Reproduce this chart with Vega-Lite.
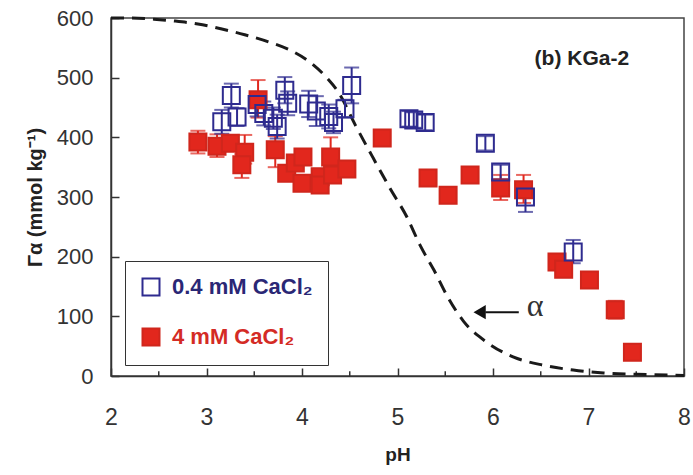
{
  "$schema": "https://vega.github.io/schema/vega-lite/v6.json",
  "width": 573,
  "height": 358,
  "autosize": "none",
  "padding": {"left": 111, "top": 18, "right": 9, "bottom": 99},
  "background": "white",
  "config": {
    "view": {"stroke": "#444", "strokeWidth": 1.5},
    "font": "Liberation Sans",
    "axis": {"grid": false, "domainColor": "#333", "domainWidth": 1.5, "tickColor": "#333", "tickWidth": 1.5, "labelColor": "#333", "labelFont": "Liberation Sans", "titleFont": "Liberation Sans", "titleColor": "#222"},
    "legend": {"orient": "none", "legendX": 14, "legendY": 243, "strokeColor": "#333", "fillColor": "white", "padding": 15, "symbolSize": 289, "symbolStrokeWidth": 2, "symbolType": "square", "labelFontSize": 22, "labelFont": "Liberation Sans", "labelFontWeight": "bold", "labelOffset": 10, "rowPadding": 24, "labelLimit": 300}
  },
  "datasets": {
    "curve": [
      {"pH": 2.0, "a": 600}, {"pH": 2.18, "a": 600}, {"pH": 2.45, "a": 598}, {"pH": 2.66, "a": 595},
      {"pH": 2.91, "a": 590}, {"pH": 3.15, "a": 582}, {"pH": 3.4, "a": 572}, {"pH": 3.65, "a": 560},
      {"pH": 3.89, "a": 545}, {"pH": 4.1, "a": 524}, {"pH": 4.27, "a": 498}, {"pH": 4.38, "a": 476},
      {"pH": 4.56, "a": 420}, {"pH": 4.75, "a": 364}, {"pH": 4.92, "a": 315}, {"pH": 5.1, "a": 266},
      {"pH": 5.24, "a": 218}, {"pH": 5.38, "a": 178}, {"pH": 5.52, "a": 134}, {"pH": 5.69, "a": 92},
      {"pH": 5.94, "a": 56}, {"pH": 6.21, "a": 32}, {"pH": 6.53, "a": 18}, {"pH": 6.84, "a": 10},
      {"pH": 7.16, "a": 5}, {"pH": 7.5, "a": 3}, {"pH": 8.0, "a": 1}
    ],
    "minor": [{"pH": 2.5}, {"pH": 3.5}, {"pH": 4.5}, {"pH": 5.5}, {"pH": 6.5}, {"pH": 7.5}],
    "pts": [
      {"series": "4 mM CaCl₂", "pH": 2.91, "G": 392, "lo": 373, "hi": 411},
      {"series": "4 mM CaCl₂", "pH": 3.11, "G": 385, "lo": 367, "hi": 405},
      {"series": "4 mM CaCl₂", "pH": 3.25, "G": 390, "lo": 380, "hi": 400},
      {"series": "4 mM CaCl₂", "pH": 3.4, "G": 375, "lo": 356, "hi": 404},
      {"series": "4 mM CaCl₂", "pH": 3.37, "G": 354, "lo": 332, "hi": 372},
      {"series": "4 mM CaCl₂", "pH": 3.54, "G": 463, "lo": 433, "hi": 496},
      {"series": "4 mM CaCl₂", "pH": 3.72, "G": 379, "lo": 350, "hi": 402},
      {"series": "4 mM CaCl₂", "pH": 3.84, "G": 340, "lo": 330, "hi": 350},
      {"series": "4 mM CaCl₂", "pH": 3.93, "G": 357, "lo": 347, "hi": 367},
      {"series": "4 mM CaCl₂", "pH": 4.01, "G": 367, "lo": 357, "hi": 377},
      {"series": "4 mM CaCl₂", "pH": 4.0, "G": 323, "lo": 313, "hi": 333},
      {"series": "4 mM CaCl₂", "pH": 4.19, "G": 334, "lo": 324, "hi": 344},
      {"series": "4 mM CaCl₂", "pH": 4.19, "G": 320, "lo": 310, "hi": 330},
      {"series": "4 mM CaCl₂", "pH": 4.3, "G": 367, "lo": 345, "hi": 400},
      {"series": "4 mM CaCl₂", "pH": 4.32, "G": 337, "lo": 325, "hi": 349},
      {"series": "4 mM CaCl₂", "pH": 4.47, "G": 347, "lo": 337, "hi": 357},
      {"series": "4 mM CaCl₂", "pH": 4.84, "G": 399, "lo": 389, "hi": 409},
      {"series": "4 mM CaCl₂", "pH": 5.32, "G": 332, "lo": 322, "hi": 342},
      {"series": "4 mM CaCl₂", "pH": 5.53, "G": 303, "lo": 293, "hi": 313},
      {"series": "4 mM CaCl₂", "pH": 5.76, "G": 337, "lo": 327, "hi": 347},
      {"series": "4 mM CaCl₂", "pH": 6.08, "G": 315, "lo": 295, "hi": 337},
      {"series": "4 mM CaCl₂", "pH": 6.32, "G": 312, "lo": 290, "hi": 337},
      {"series": "4 mM CaCl₂", "pH": 6.67, "G": 191, "lo": 181, "hi": 201},
      {"series": "4 mM CaCl₂", "pH": 6.74, "G": 179, "lo": 169, "hi": 189},
      {"series": "4 mM CaCl₂", "pH": 7.01, "G": 161, "lo": 151, "hi": 171},
      {"series": "4 mM CaCl₂", "pH": 7.28, "G": 111, "lo": 96, "hi": 126},
      {"series": "4 mM CaCl₂", "pH": 7.46, "G": 40, "lo": 28, "hi": 52},
      {"series": "0.4 mM CaCl₂", "pH": 3.16, "G": 426, "lo": 406, "hi": 446},
      {"series": "0.4 mM CaCl₂", "pH": 3.26, "G": 470, "lo": 450, "hi": 490},
      {"series": "0.4 mM CaCl₂", "pH": 3.32, "G": 434, "lo": 419, "hi": 449},
      {"series": "0.4 mM CaCl₂", "pH": 3.53, "G": 455, "lo": 435, "hi": 475},
      {"series": "0.4 mM CaCl₂", "pH": 3.6, "G": 440, "lo": 420, "hi": 460},
      {"series": "0.4 mM CaCl₂", "pH": 3.7, "G": 432, "lo": 414, "hi": 450},
      {"series": "0.4 mM CaCl₂", "pH": 3.74, "G": 418, "lo": 398, "hi": 438},
      {"series": "0.4 mM CaCl₂", "pH": 3.82, "G": 479, "lo": 457, "hi": 501},
      {"series": "0.4 mM CaCl₂", "pH": 3.85, "G": 457, "lo": 437, "hi": 477},
      {"series": "0.4 mM CaCl₂", "pH": 4.07, "G": 456, "lo": 434, "hi": 478},
      {"series": "0.4 mM CaCl₂", "pH": 4.15, "G": 444, "lo": 419, "hi": 469},
      {"series": "0.4 mM CaCl₂", "pH": 4.28, "G": 435, "lo": 415, "hi": 455},
      {"series": "0.4 mM CaCl₂", "pH": 4.33, "G": 425, "lo": 407, "hi": 443},
      {"series": "0.4 mM CaCl₂", "pH": 4.45, "G": 448, "lo": 433, "hi": 463},
      {"series": "0.4 mM CaCl₂", "pH": 4.52, "G": 487, "lo": 457, "hi": 517},
      {"series": "0.4 mM CaCl₂", "pH": 5.12, "G": 431, "lo": 418, "hi": 444},
      {"series": "0.4 mM CaCl₂", "pH": 5.17, "G": 429, "lo": 416, "hi": 442},
      {"series": "0.4 mM CaCl₂", "pH": 5.29, "G": 425, "lo": 412, "hi": 438},
      {"series": "0.4 mM CaCl₂", "pH": 5.92, "G": 390, "lo": 378, "hi": 402},
      {"series": "0.4 mM CaCl₂", "pH": 6.08, "G": 342, "lo": 330, "hi": 354},
      {"series": "0.4 mM CaCl₂", "pH": 6.34, "G": 300, "lo": 275, "hi": 321},
      {"series": "0.4 mM CaCl₂", "pH": 6.84, "G": 208, "lo": 189, "hi": 228}
    ],
    "notes": [
      {"pH": 6.93, "G": 521, "label": "(b) KGa-2", "kind": "panel"},
      {"pH": 6.44, "G": 100, "label": "α", "kind": "alpha"}
    ],
    "arrow": [{"x1": 5.92, "x2": 6.27, "y": 107, "head": 5.86}]
  },
  "layer": [
    {
      "data": {"name": "minor"},
      "mark": {"type": "rule", "color": "#333", "strokeWidth": 1.5},
      "encoding": {
        "x": {"field": "pH", "type": "quantitative", "scale": {"domain": [2, 8], "nice": false},
          "axis": {"values": [2, 3, 4, 5, 6, 7, 8], "format": "d", "tickSize": -8, "labelFontSize": 23, "labelPadding": 38, "labelFlush": false, "title": "pH", "titleFontSize": 19, "titleFontWeight": "bold", "titleBaseline": "middle", "titleY": 78}},
        "y": {"datum": 0, "type": "quantitative", "scale": {"domain": [0, 600], "nice": false},
          "axis": {"values": [0, 100, 200, 300, 400, 500, 600], "format": "d", "tickSize": -8, "labelFontSize": 22, "labelPadding": 26, "labelFlush": false, "title": "Γα (mmol kg⁻¹)", "titleFontSize": 20, "titleFontWeight": "bold", "titleBaseline": "middle", "titleX": -76}},
        "y2": {"datum": 8}
      }
    },
    {
      "data": {"name": "curve"},
      "mark": {"type": "line", "color": "#1a1a1a", "strokeWidth": 3, "strokeDash": [13, 8], "interpolate": "monotone"},
      "encoding": {
        "x": {"field": "pH", "type": "quantitative", "title": "pH"},
        "y": {"field": "a", "type": "quantitative", "title": "Γα (mmol kg⁻¹)"}
      }
    },
    {
      "data": {"name": "pts"},
      "transform": [{"filter": "datum.series === '4 mM CaCl₂'"}],
      "mark": {"type": "errorbar", "ticks": {"size": 15}, "thickness": 2, "color": "#e0281e"},
      "encoding": {
        "x": {"field": "pH", "type": "quantitative", "title": "pH"},
        "y": {"field": "lo", "type": "quantitative", "title": "Γα (mmol kg⁻¹)"},
        "y2": {"field": "hi"}
      }
    },
    {
      "data": {"name": "pts"},
      "transform": [{"filter": "datum.series !== '4 mM CaCl₂'"}],
      "mark": {"type": "errorbar", "ticks": {"size": 15}, "thickness": 2, "color": "#2e2b8f"},
      "encoding": {
        "x": {"field": "pH", "type": "quantitative", "title": "pH"},
        "y": {"field": "lo", "type": "quantitative", "title": "Γα (mmol kg⁻¹)"},
        "y2": {"field": "hi"}
      }
    },
    {
      "data": {"name": "pts"},
      "mark": {"type": "point", "shape": "square", "size": 289, "strokeWidth": 2, "opacity": 1},
      "encoding": {
        "x": {"field": "pH", "type": "quantitative", "title": "pH"},
        "y": {"field": "G", "type": "quantitative", "title": "Γα (mmol kg⁻¹)"},
        "stroke": {"field": "series", "type": "nominal", "title": null, "scale": {"domain": ["0.4 mM CaCl₂", "4 mM CaCl₂"], "range": ["#2e2b8f", "#d0261c"]},
          "legend": {"labelColor": {"expr": "datum.value === '4 mM CaCl₂' ? '#d42b25' : '#2a2775'"}}},
        "fill": {"field": "series", "type": "nominal", "title": null, "scale": {"domain": ["0.4 mM CaCl₂", "4 mM CaCl₂"], "range": ["transparent", "#e2271d"]}}
      }
    },
    {
      "data": {"name": "notes"},
      "transform": [{"filter": "datum.kind === 'panel'"}],
      "mark": {"type": "text", "fontSize": 21, "fontWeight": "bold", "font": "Liberation Sans", "color": "#222", "align": "center", "baseline": "alphabetic"},
      "encoding": {
        "x": {"field": "pH", "type": "quantitative"},
        "y": {"field": "G", "type": "quantitative"},
        "text": {"field": "label"}
      }
    },
    {
      "data": {"name": "notes"},
      "transform": [{"filter": "datum.kind === 'alpha'"}],
      "mark": {"type": "text", "fontSize": 32, "font": "Liberation Serif", "color": "#333", "align": "center", "baseline": "alphabetic"},
      "encoding": {
        "x": {"field": "pH", "type": "quantitative"},
        "y": {"field": "G", "type": "quantitative"},
        "text": {"field": "label"}
      }
    },
    {
      "data": {"name": "arrow"},
      "mark": {"type": "rule", "color": "#111", "strokeWidth": 2},
      "encoding": {
        "x": {"field": "x1", "type": "quantitative"},
        "x2": {"field": "x2"},
        "y": {"field": "y", "type": "quantitative"}
      }
    },
    {
      "data": {"name": "arrow"},
      "mark": {"type": "point", "shape": "triangle-left", "size": 200, "filled": true, "color": "#111", "opacity": 1},
      "encoding": {
        "x": {"field": "head", "type": "quantitative"},
        "y": {"field": "y", "type": "quantitative"}
      }
    }
  ]
}
